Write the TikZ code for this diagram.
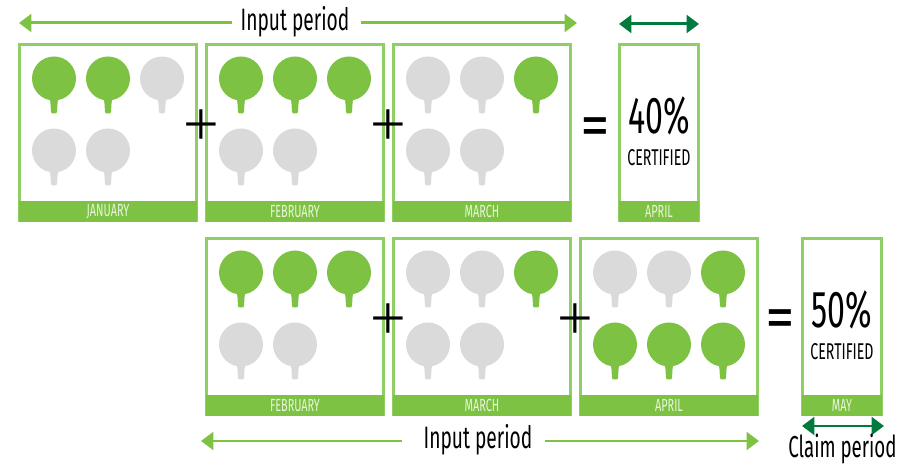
\documentclass[tikz,border=0pt]{standalone}
\usepackage{fontspec}
\usepackage{xcolor}
\usetikzlibrary{arrows.meta}
\setmainfont{Liberation Sans}
\newfontfamily\condfont[FakeStretch=0.62]{Fira Sans}
\newfontfamily\plusfont{Liberation Serif}
\definecolor{leafgreen}{HTML}{7DC242}
\definecolor{edgegreen}{HTML}{8FCF66}
\definecolor{deepgreen}{HTML}{007A3D}
\definecolor{leafgrey}{HTML}{DADADA}
\definecolor{footertext}{HTML}{E9F5DC}
\newcommand{\tree}[3]{\fill[#3] (#1,#2-0.5) circle (22); \fill[#3] (#1-4.5,#2+19) .. controls (#1-3.5,#2+22) and (#1-3.5,#2+25) .. (#1-3,#2+33) -- (#1-2,#2+34.5) -- (#1+2,#2+34.5) -- (#1+3,#2+33) .. controls (#1+3.5,#2+25) and (#1+3.5,#2+22) .. (#1+4.5,#2+19) -- cycle;}
\tikzset{
	month/.style={draw=edgegreen, line width=1.2pt, outer sep=0pt, minimum width=3.54cm, minimum height=3.52cm},
	result/.style={draw=edgegreen, line width=1.2pt, outer sep=0pt, minimum width=1.58cm, minimum height=3.52cm},
	footer/.style={fill=leafgreen, text=footertext, font=\condfont\fontsize{10}{12}\selectfont, anchor=south, outer sep=0pt, inner sep=0pt, minimum height=0.41cm},
	period/.style={font=\condfont\fontsize{17.6}{20}\selectfont, inner sep=0pt},
	claimlabel/.style={font=\condfont\fontsize{17.2}{20}\selectfont, inner sep=0pt},
	percent/.style={font=\condfont\fontsize{29.5}{32}\selectfont, inner sep=0pt},
	certified/.style={font=\condfont\fontsize{13}{15}\selectfont, inner sep=0pt},
	plussign/.style={font=\plusfont\fontsize{36}{36}\selectfont, inner sep=0pt},
	equalsign/.style={font=\bfseries\fontsize{25}{25}\selectfont, inner sep=0pt},
	inputarrow/.style={-{Triangle[length=7pt,width=10pt]}, leafgreen, line width=1.7pt},
	claimarrow/.style={{Triangle[length=7pt,width=10pt]}-{Triangle[length=7pt,width=10pt]}, deepgreen, line width=1.7pt}
}
\begin{document}
\begin{tikzpicture}[x=0.02cm,y=-0.02cm]
	\useasboundingbox (0,0) rectangle (917,465);
	% first row
	\node[month] (janbox) at (108,132.5) {};
	\node[month] (febbox) at (295,132.5) {};
	\node[month] (marbox) at (482,132.5) {};
	\node[result] (aprbox) at (659,132.5) {};
	\node[footer, minimum width=3.56cm] (janlabel) at ([yshift=-0.6pt]janbox.south) {JANUARY};
	\node[footer, minimum width=3.56cm] (feblabel) at ([yshift=-0.6pt]febbox.south) {FEBRUARY};
	\node[footer, minimum width=3.56cm] (marlabel) at ([yshift=-0.6pt]marbox.south) {MARCH};
	\node[footer, minimum width=1.6cm] (aprlabel) at ([yshift=-0.6pt]aprbox.south) {APRIL};
	\tree{54}{79}{leafgreen}
	\tree{108}{79}{leafgreen}
	\tree{162}{79}{leafgrey}
	\tree{54}{151}{leafgrey}
	\tree{108}{151}{leafgrey}
	\tree{241}{79}{leafgreen}
	\tree{295}{79}{leafgreen}
	\tree{349}{79}{leafgreen}
	\tree{241}{151}{leafgrey}
	\tree{295}{151}{leafgrey}
	\tree{428}{79}{leafgrey}
	\tree{482}{79}{leafgrey}
	\tree{536}{79}{leafgreen}
	\tree{428}{151}{leafgrey}
	\tree{482}{151}{leafgrey}
	\node[plussign] (plusa) at (201,128) {+};
	\node[plussign] (plusb) at (388,128) {+};
	\node[equalsign] (equala) at (595,129) {=};
	\node[percent] (fortypct) at (659,116) {40\%};
	\node[certified] (certa) at (659,158) {CERTIFIED};
	% second row
	\node[month] (febboxb) at (295,326.5) {};
	\node[month] (marboxb) at (482,326.5) {};
	\node[month] (aprboxb) at (669,326.5) {};
	\node[result] (maybox) at (842,326.5) {};
	\node[footer, minimum width=3.56cm] (feblabelb) at ([yshift=-0.6pt]febboxb.south) {FEBRUARY};
	\node[footer, minimum width=3.56cm] (marlabelb) at ([yshift=-0.6pt]marboxb.south) {MARCH};
	\node[footer, minimum width=3.56cm] (aprlabelb) at ([yshift=-0.6pt]aprboxb.south) {APRIL};
	\node[footer, minimum width=1.6cm] (maylabel) at ([yshift=-0.6pt]maybox.south) {MAY};
	\tree{241}{273}{leafgreen}
	\tree{295}{273}{leafgreen}
	\tree{349}{273}{leafgreen}
	\tree{241}{345}{leafgrey}
	\tree{295}{345}{leafgrey}
	\tree{428}{273}{leafgrey}
	\tree{482}{273}{leafgrey}
	\tree{536}{273}{leafgreen}
	\tree{428}{345}{leafgrey}
	\tree{482}{345}{leafgrey}
	\tree{615}{273}{leafgrey}
	\tree{669}{273}{leafgrey}
	\tree{723}{273}{leafgreen}
	\tree{615}{345}{leafgreen}
	\tree{669}{345}{leafgreen}
	\tree{723}{345}{leafgreen}
	\node[plussign] (plusc) at (388,322) {+};
	\node[plussign] (plusd) at (575,322) {+};
	\node[equalsign] (equalb) at (780,321) {=};
	\node[percent] (fiftypct) at (842,310) {50\%};
	\node[certified] (certb) at (842,352) {CERTIFIED};
	% periods
	\node[period] (inputa) at (295,22) {Input period};
	\coordinate (inputaleft) at (19,23);
	\coordinate (inputagapl) at (232,23);
	\coordinate (inputagapr) at (361,23);
	\coordinate (inputaright) at (577,23);
	\draw[inputarrow] (inputagapl) -- (inputaleft);
	\draw[inputarrow] (inputagapr) -- (inputaright);
	\coordinate (claimaleft) at (619,24);
	\coordinate (claimaright) at (699,24);
	\draw[claimarrow] (claimaleft) -- (claimaright);
	\node[period] (inputb) at (478,440) {Input period};
	\coordinate (inputbleft) at (201,441);
	\coordinate (inputbgapl) at (402,441);
	\coordinate (inputbgapr) at (545,441);
	\coordinate (inputbright) at (759,441);
	\draw[inputarrow] (inputbgapl) -- (inputbleft);
	\draw[inputarrow] (inputbgapr) -- (inputbright);
	\coordinate (claimbleft) at (802,426);
	\coordinate (claimbright) at (884,426);
	\draw[claimarrow] (claimbleft) -- (claimbright);
	\node[claimlabel] (claimtext) at (842.5,449) {Claim period};
\end{tikzpicture}
\end{document}
